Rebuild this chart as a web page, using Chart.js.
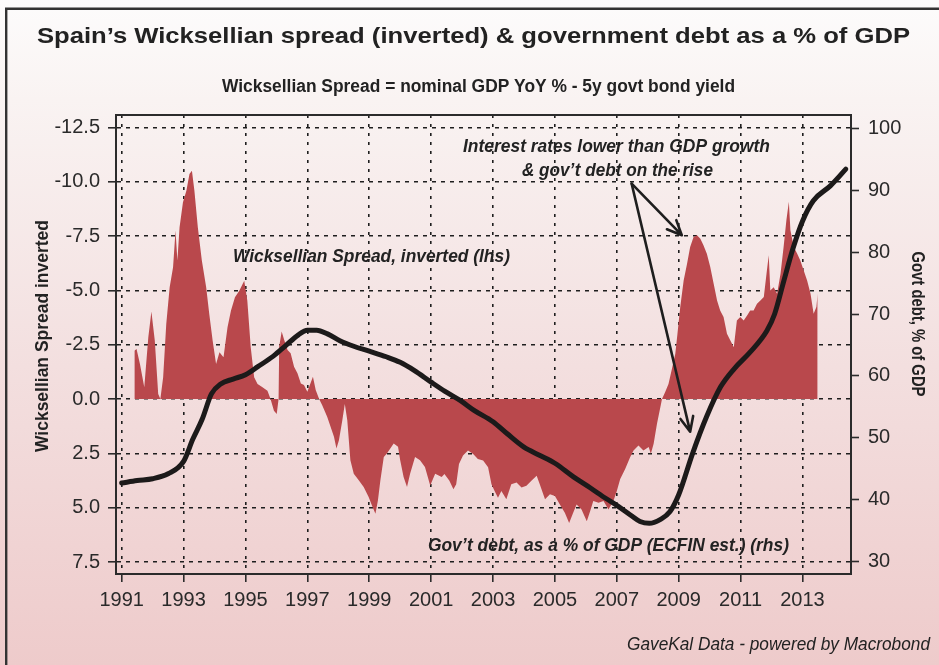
<!DOCTYPE html>
<html>
<head>
<meta charset="utf-8">
<title>Spain Wicksellian spread</title>
<script src="https://cdn.jsdelivr.net/npm/chart.js@4.4.0/dist/chart.umd.min.js"></script>
<style>
  html, body { margin: 0; padding: 0; background: #fff; }
  #wrap { width: 939px; height: 665px; }
</style>
</head>
<body>
<div id="wrap"><canvas id="chart" width="939" height="665"></canvas></div>
<script>
// Wicksellian spread, inverted (lhs)
var spreadYears = [
  1991.41, 1991.48, 1991.59, 1991.73, 1991.86, 1991.96, 1992.07, 1992.18, 1992.25, 1992.34,
  1992.44, 1992.55, 1992.66, 1992.74, 1992.80, 1992.87, 1992.98, 1993.09, 1993.19, 1993.27,
  1993.35, 1993.46, 1993.59, 1993.73, 1993.83, 1993.94, 1994.05, 1994.16, 1994.29, 1994.42,
  1994.53, 1994.66, 1994.80, 1994.96, 1995.06, 1995.17, 1995.28, 1995.39, 1995.55, 1995.71,
  1995.81, 1995.92, 1996.01, 1996.07, 1996.09, 1996.17, 1996.25, 1996.36, 1996.46, 1996.57,
  1996.68, 1996.79, 1996.89, 1997.00, 1997.08, 1997.18, 1997.27, 1997.38, 1997.48, 1997.64,
  1997.75, 1997.86, 1997.94, 1998.02, 1998.13, 1998.21, 1998.29, 1998.39, 1998.50, 1998.66,
  1998.82, 1998.98, 1999.11, 1999.20, 1999.28, 1999.36, 1999.47, 1999.57, 1999.68, 1999.79,
  1999.93, 2000.00, 2000.11, 2000.22, 2000.32, 2000.48, 2000.64, 2000.80, 2000.97, 2001.13,
  2001.34, 2001.43, 2001.59, 2001.72, 2001.81, 2001.90, 2002.03, 2002.19, 2002.35, 2002.51,
  2002.68, 2002.84, 2002.95, 2003.05, 2003.16, 2003.27, 2003.43, 2003.59, 2003.76, 2003.92,
  2004.08, 2004.24, 2004.41, 2004.51, 2004.68, 2004.84, 2005.00, 2005.16, 2005.32, 2005.46,
  2005.59, 2005.70, 2005.86, 2006.03, 2006.14, 2006.24, 2006.41, 2006.57, 2006.73, 2006.89,
  2007.00, 2007.11, 2007.27, 2007.43, 2007.54, 2007.70, 2007.86, 2008.03, 2008.10, 2008.19,
  2008.30, 2008.41, 2008.46, 2008.56, 2008.67, 2008.78, 2008.89, 2008.96, 2009.05, 2009.16,
  2009.27, 2009.37, 2009.48, 2009.59, 2009.70, 2009.80, 2009.91, 2010.02, 2010.13, 2010.24,
  2010.34, 2010.45, 2010.56, 2010.67, 2010.78, 2010.88, 2010.99, 2011.10, 2011.21, 2011.31,
  2011.42, 2011.53, 2011.64, 2011.75, 2011.85, 2011.91, 2011.96, 2012.07, 2012.18, 2012.29,
  2012.39, 2012.48, 2012.56, 2012.61, 2012.72, 2012.83, 2012.93, 2013.04, 2013.15, 2013.26,
  2013.36, 2013.45, 2013.49
];
var spreadValues = [
  -2.22, -2.30, -1.61, -0.54, -2.84, -4.03, -2.68, -0.23, 0.00, -1.00,
  -3.45, -5.14, -6.06, -7.75, -6.37, -7.90, -9.05, -9.59, -10.35, -10.51,
  -9.59, -7.90, -6.37, -5.14, -3.91, -2.68, -1.61, -2.15, -1.92, -3.30,
  -4.06, -4.68, -4.98, -5.44, -4.52, -2.38, -1.00, -0.69, -0.54, -0.38,
  0.00, 0.54, 0.69, 0.00, -2.42, -3.11, -2.73, -2.26, -2.11, -1.49,
  -1.19, -0.72, -0.65, -0.34, -0.65, -1.03, -0.42, 0.00, 0.28, 0.82,
  1.28, 1.74, 2.28, 1.90, 0.97, 0.23, 0.97, 2.82, 3.44, 3.74,
  4.05, 4.51, 4.98, 5.28, 4.67, 3.74, 2.67, 2.51, 2.28, 2.05,
  2.20, 2.82, 3.59, 4.05, 3.44, 2.67, 2.82, 3.13, 3.98, 3.44,
  3.59, 3.45, 3.76, 4.15, 3.92, 2.99, 2.60, 2.37, 2.52, 2.76,
  2.83, 3.14, 3.92, 4.23, 4.54, 4.23, 4.61, 3.92, 3.84, 4.07,
  3.99, 3.76, 3.53, 3.92, 4.61, 4.38, 4.46, 4.85, 5.23, 5.70,
  5.23, 4.85, 5.08, 5.62, 5.15, 4.69, 4.77, 4.69, 5.08, 4.69,
  4.23, 3.68, 3.22, 2.68, 2.37, 2.14, 2.37, 2.21, 2.52, 2.06,
  1.13, 0.36, 0.00, -0.31, -0.69, -1.38, -2.08, -3.00, -4.23, -5.46,
  -6.23, -7.00, -7.46, -7.54, -7.38, -7.08, -6.69, -6.08, -5.31, -4.54,
  -4.08, -3.77, -3.00, -2.69, -2.38, -3.62, -3.77, -3.62, -3.85, -4.08,
  -4.08, -4.38, -4.54, -4.69, -5.92, -6.62, -5.00, -5.15, -4.85, -5.77,
  -7.00, -8.23, -9.08, -7.77, -7.00, -6.69, -6.38, -5.92, -5.46, -4.85,
  -3.92, -4.23, -4.85
];

// Government debt, % of GDP (rhs)
var debtYears = [
  1991.0, 1991.5, 1992.0, 1992.5, 1993.0, 1993.3, 1993.6, 1993.9, 1994.2, 1994.6,
  1995.0, 1995.4, 1995.9, 1996.3, 1996.7, 1997.0, 1997.3, 1997.65, 1998.05, 1998.5,
  1999.0, 1999.55, 2000.0, 2000.45, 2001.0, 2001.45, 2001.95, 2002.4, 2003.0, 2003.45,
  2004.0, 2004.5, 2005.0, 2005.6, 2006.15, 2006.65, 2007.0, 2007.45, 2007.75, 2008.05,
  2008.4, 2008.72, 2009.0, 2009.45, 2009.9, 2010.35, 2010.8, 2011.3, 2011.85, 2012.1,
  2012.4, 2012.7, 2013.0, 2013.35, 2013.9, 2014.4
];
var debtValues = [
  42.7, 43.1, 43.4, 44.2, 46.2, 49.8, 53.0, 57.1, 58.7, 59.5,
  60.2, 61.5, 63.2, 64.9, 66.6, 67.4, 67.4, 66.8, 65.7, 64.8,
  64.0, 63.1, 62.2, 60.9, 59.0, 57.5, 56.0, 54.4, 52.6, 50.7,
  48.5, 47.2, 45.9, 43.7, 41.9, 40.2, 39.1, 37.5, 36.5, 36.2,
  36.8, 38.1, 40.8, 47.5, 53.4, 58.2, 61.2, 63.8, 67.3, 70.0,
  75.4, 80.7, 85.0, 88.3, 90.7, 93.4
];

var yearTicks = [1991, 1993, 1995, 1997, 1999, 2001, 2003, 2005, 2007, 2009, 2011, 2013];
var lhsTicks = [-12.5, -10, -7.5, -5, -2.5, 0, 2.5, 5, 7.5];
var rhsTicks = [30, 40, 50, 60, 70, 80, 90, 100];

var NARROW = "'Liberation Sans Narrow', 'Arial Narrow', 'Liberation Sans', Arial, sans-serif";
var WIDE = "'Liberation Sans', Arial, sans-serif";
var INK = '#222222';

// draws text centred on x, squeezed/stretched to the given width
function fitText(ctx, text, x, y, font, width, rot) {
  ctx.save();
  ctx.font = font;
  ctx.fillStyle = INK;
  ctx.translate(x, y);
  if (rot) ctx.rotate(rot);
  var w = ctx.measureText(text).width;
  if (width) ctx.scale(width / w, 1);
  ctx.textAlign = 'center';
  ctx.textBaseline = 'alphabetic';
  ctx.fillText(text, 0, 0);
  ctx.restore();
}

function arrow(ctx, x1, y1, x2, y2) {
  var a = Math.atan2(y2 - y1, x2 - x1), h = 16, s = 0.42;
  ctx.beginPath();
  ctx.moveTo(x1, y1);
  ctx.lineTo(x2, y2);
  ctx.moveTo(x2 - h * Math.cos(a - s), y2 - h * Math.sin(a - s));
  ctx.lineTo(x2, y2);
  ctx.lineTo(x2 - h * Math.cos(a + s), y2 - h * Math.sin(a + s));
  ctx.stroke();
}

var backdrop = {
  id: 'backdrop',
  beforeDraw: function(chart) {
    var ctx = chart.ctx;
    var g = ctx.createLinearGradient(0, 0, 0, chart.height);
    g.addColorStop(0, '#fdfcfc');
    g.addColorStop(0.15, '#f9f3f2');
    g.addColorStop(0.55, '#f3dfdf');
    g.addColorStop(1, '#eecbcb');
    ctx.save();
    ctx.fillStyle = g;
    ctx.fillRect(0, 0, chart.width, chart.height);
    ctx.strokeStyle = '#333';
    ctx.lineWidth = 2.4;
    ctx.beginPath();
    ctx.moveTo(6.2, chart.height);
    ctx.lineTo(6.2, 8.7);
    ctx.lineTo(chart.width, 8.7);
    ctx.stroke();
    ctx.restore();
  }
};

var notes = {
  id: 'notes',
  afterDraw: function(chart) {
    var ctx = chart.ctx, xs = chart.scales.x, ys = chart.scales.y, a = chart.chartArea;
    var px = function(v) { return xs.getPixelForValue(v); };
    var py = function(v) { return ys.getPixelForValue(v); };

    ctx.save();
    // top edge of the plot box
    ctx.strokeStyle = '#2b2b2b';
    ctx.lineWidth = 2;
    ctx.beginPath();
    ctx.moveTo(a.left - 1, a.top);
    ctx.lineTo(a.right + 1, a.top);
    ctx.stroke();

    // arrows
    ctx.strokeStyle = '#1e1e1e';
    ctx.lineWidth = 2.6;
    ctx.lineCap = 'round';
    ctx.lineJoin = 'round';
    arrow(ctx, px(2007.48), py(-9.91), px(2009.10), py(-7.54));
    arrow(ctx, px(2007.48), py(-9.91), px(2009.37), py(1.50));
    ctx.restore();

    var bi = 'italic bold 19px ' + NARROW;
    fitText(ctx, 'Wicksellian Spread, inverted (lhs)', px(1999.07), py(-6.30), bi, 277);
    fitText(ctx, 'Interest rates lower than GDP growth', px(2006.99), py(-11.36), bi, 307);
    fitText(ctx, '& gov\u2019t debt on the rise', px(2007.02), py(-10.25), bi, 191);
    fitText(ctx, 'Gov\u2019t debt, as a % of GDP (ECFIN est.) (rhs)', px(2006.73), py(6.99), bi, 361);

    fitText(ctx, 'Spain\u2019s Wicksellian spread (inverted) & government debt as a % of GDP', 473.5, 43, 'bold 22px ' + WIDE, 873);
    fitText(ctx, 'Wicksellian Spread = nominal GDP YoY % - 5y govt bond yield', 478.5, 92, 'bold 18px ' + NARROW, 513);
    fitText(ctx, 'GaveKal Data - powered by Macrobond', 778.5, 650, 'italic 19px ' + NARROW, 303);
    fitText(ctx, 'Wicksellian Spread inverted', 48, 336, 'bold 19px ' + NARROW, 232, -Math.PI / 2);
    fitText(ctx, 'Govt debt, % of GDP', 911.5, 324, 'bold 19px ' + NARROW, 145, Math.PI / 2);
  }
};

var tickFont = { family: NARROW, size: 20 };

function setTicks(list) {
  return function(scale) {
    scale.ticks = list.map(function(v) { return { value: v }; });
  };
}

new Chart(document.getElementById('chart'), {
  type: 'line',
  data: {
    datasets: [
      {
        label: 'Gov\u2019t debt, % of GDP',
        data: debtYears.map(function(x, i) { return { x: x, y: debtValues[i] }; }),
        yAxisID: 'y2',
        borderColor: '#1c1a1a',
        borderWidth: 5,
        borderCapStyle: 'round',
        borderJoinStyle: 'round',
        cubicInterpolationMode: 'monotone',
        pointRadius: 0,
        fill: false,
        order: 0
      },
      {
        label: 'Wicksellian spread, inverted',
        data: spreadYears.map(function(x, i) { return { x: x, y: spreadValues[i] }; }),
        yAxisID: 'y',
        borderWidth: 0,
        borderColor: 'rgba(0,0,0,0)',
        backgroundColor: '#b9484c',
        pointRadius: 0,
        tension: 0,
        fill: 'origin',
        order: 1
      }
    ]
  },
  options: {
    responsive: false,
    devicePixelRatio: 1,
    animation: false,
    layout: { padding: { top: 115, left: 0, right: 0, bottom: 0 } },
    plugins: {
      legend: { display: false },
      tooltip: { enabled: false },
      title: { display: false }
    },
    scales: {
      x: {
        type: 'linear',
        min: 1990.816,
        max: 2014.568,
        afterBuildTicks: setTicks(yearTicks),
        afterFit: function(s) { s.height = 91; },
        ticks: { font: tickFont, color: '#2a2a2a', padding: 6, maxRotation: 0, callback: function(v) { return String(v); } },
        grid: { color: '#1e1e1e', lineWidth: 1.6, tickLength: 8, tickColor: '#2b2b2b', tickWidth: 1.6, tickBorderDash: [] },
        border: { color: '#2b2b2b', width: 2, dash: [3, 6] }
      },
      y: {
        position: 'left',
        reverse: true,
        min: -13.07,
        max: 8.05,
        afterBuildTicks: setTicks(lhsTicks),
        afterFit: function(s) { s.width = 116; },
        ticks: { font: tickFont, color: '#2a2a2a', padding: 8, callback: function(v) { return v.toFixed(1); } },
        grid: { color: '#1e1e1e', lineWidth: 1.6, tickLength: 8, tickColor: '#2b2b2b', tickWidth: 1.6, tickBorderDash: [] },
        border: { color: '#2b2b2b', width: 2, dash: [4, 5] }
      },
      y2: {
        position: 'right',
        min: 28.01,
        max: 102.15,
        afterBuildTicks: setTicks(rhsTicks),
        afterFit: function(s) { s.width = 88; },
        ticks: { font: tickFont, color: '#2a2a2a', padding: 9, callback: function(v) { return String(v); } },
        grid: { drawOnChartArea: false, tickLength: 8, tickColor: '#2b2b2b', tickWidth: 1.6 },
        border: { color: '#2b2b2b', width: 2 }
      }
    }
  },
  plugins: [backdrop, notes]
});
</script>
</body>
</html>
